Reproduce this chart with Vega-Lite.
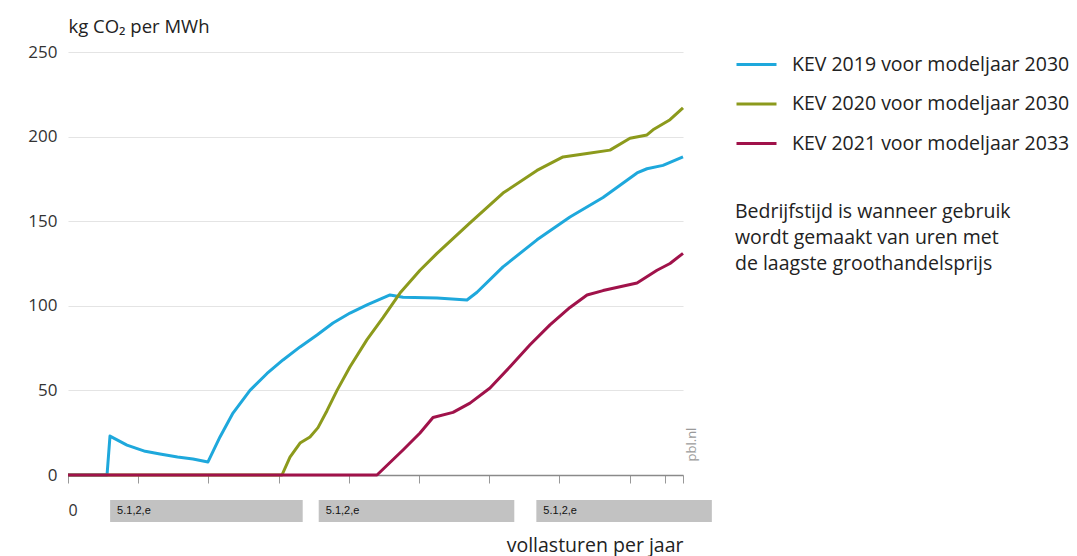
{
  "$schema": "https://vega.github.io/schema/vega-lite/v6.json",
  "width": 615,
  "height": 423,
  "autosize": {"type": "none"},
  "padding": {"left": 68, "top": 52, "right": 394, "bottom": 81},
  "background": "white",
  "config": {
    "font": "Open Sans",
    "view": {"stroke": null},
    "axis": {"labelFont": "Open Sans", "titleFont": "Open Sans"},
    "legend": {"labelFont": "Open Sans", "titleFont": "Open Sans"}
  },
  "datasets": {
    "lines": [
      {"s": "KEV 2019 voor modeljaar 2030", "h": 0, "v": 0},
      {"s": "KEV 2019 voor modeljaar 2030", "h": 556, "v": 0},
      {"s": "KEV 2019 voor modeljaar 2030", "h": 598, "v": 23},
      {"s": "KEV 2019 voor modeljaar 2030", "h": 840, "v": 17.7},
      {"s": "KEV 2019 voor modeljaar 2030", "h": 1100, "v": 14},
      {"s": "KEV 2019 voor modeljaar 2030", "h": 1310, "v": 12.4},
      {"s": "KEV 2019 voor modeljaar 2030", "h": 1560, "v": 10.6},
      {"s": "KEV 2019 voor modeljaar 2030", "h": 1780, "v": 9.5},
      {"s": "KEV 2019 voor modeljaar 2030", "h": 1994, "v": 7.7},
      {"s": "KEV 2019 voor modeljaar 2030", "h": 2165, "v": 22.5},
      {"s": "KEV 2019 voor modeljaar 2030", "h": 2350, "v": 36.6},
      {"s": "KEV 2019 voor modeljaar 2030", "h": 2592, "v": 50},
      {"s": "KEV 2019 voor modeljaar 2030", "h": 2835, "v": 60},
      {"s": "KEV 2019 voor modeljaar 2030", "h": 3062, "v": 68},
      {"s": "KEV 2019 voor modeljaar 2030", "h": 3305, "v": 75.7},
      {"s": "KEV 2019 voor modeljaar 2030", "h": 3547, "v": 82.7},
      {"s": "KEV 2019 voor modeljaar 2030", "h": 3775, "v": 89.8},
      {"s": "KEV 2019 voor modeljaar 2030", "h": 4017, "v": 95.7},
      {"s": "KEV 2019 voor modeljaar 2030", "h": 4259, "v": 100.5},
      {"s": "KEV 2019 voor modeljaar 2030", "h": 4587, "v": 106.4},
      {"s": "KEV 2019 voor modeljaar 2030", "h": 4772, "v": 105},
      {"s": "KEV 2019 voor modeljaar 2030", "h": 5256, "v": 104.6},
      {"s": "KEV 2019 voor modeljaar 2030", "h": 5683, "v": 103.4},
      {"s": "KEV 2019 voor modeljaar 2030", "h": 5826, "v": 108},
      {"s": "KEV 2019 voor modeljaar 2030", "h": 6196, "v": 123},
      {"s": "KEV 2019 voor modeljaar 2030", "h": 6680, "v": 139},
      {"s": "KEV 2019 voor modeljaar 2030", "h": 7150, "v": 152.5},
      {"s": "KEV 2019 voor modeljaar 2030", "h": 7621, "v": 164},
      {"s": "KEV 2019 voor modeljaar 2030", "h": 8105, "v": 178.5},
      {"s": "KEV 2019 voor modeljaar 2030", "h": 8247, "v": 181},
      {"s": "KEV 2019 voor modeljaar 2030", "h": 8475, "v": 183},
      {"s": "KEV 2019 voor modeljaar 2030", "h": 8760, "v": 188},
      {"s": "KEV 2020 voor modeljaar 2030", "h": 0, "v": 0},
      {"s": "KEV 2020 voor modeljaar 2030", "h": 3048, "v": 0},
      {"s": "KEV 2020 voor modeljaar 2030", "h": 3162, "v": 10.6},
      {"s": "KEV 2020 voor modeljaar 2030", "h": 3305, "v": 18.9},
      {"s": "KEV 2020 voor modeljaar 2030", "h": 3447, "v": 22.5},
      {"s": "KEV 2020 voor modeljaar 2030", "h": 3561, "v": 28},
      {"s": "KEV 2020 voor modeljaar 2030", "h": 3689, "v": 38},
      {"s": "KEV 2020 voor modeljaar 2030", "h": 3832, "v": 50},
      {"s": "KEV 2020 voor modeljaar 2030", "h": 4017, "v": 64},
      {"s": "KEV 2020 voor modeljaar 2030", "h": 4259, "v": 80},
      {"s": "KEV 2020 voor modeljaar 2030", "h": 4487, "v": 93},
      {"s": "KEV 2020 voor modeljaar 2030", "h": 4729, "v": 107.5},
      {"s": "KEV 2020 voor modeljaar 2030", "h": 5014, "v": 121},
      {"s": "KEV 2020 voor modeljaar 2030", "h": 5256, "v": 131},
      {"s": "KEV 2020 voor modeljaar 2030", "h": 5726, "v": 149},
      {"s": "KEV 2020 voor modeljaar 2030", "h": 6196, "v": 166.6},
      {"s": "KEV 2020 voor modeljaar 2030", "h": 6680, "v": 180},
      {"s": "KEV 2020 voor modeljaar 2030", "h": 7051, "v": 188},
      {"s": "KEV 2020 voor modeljaar 2030", "h": 7393, "v": 190},
      {"s": "KEV 2020 voor modeljaar 2030", "h": 7720, "v": 192},
      {"s": "KEV 2020 voor modeljaar 2030", "h": 8005, "v": 199},
      {"s": "KEV 2020 voor modeljaar 2030", "h": 8247, "v": 201},
      {"s": "KEV 2020 voor modeljaar 2030", "h": 8333, "v": 204},
      {"s": "KEV 2020 voor modeljaar 2030", "h": 8575, "v": 210},
      {"s": "KEV 2020 voor modeljaar 2030", "h": 8760, "v": 217},
      {"s": "KEV 2021 voor modeljaar 2033", "h": 0, "v": 0},
      {"s": "KEV 2021 voor modeljaar 2033", "h": 4401, "v": 0},
      {"s": "KEV 2021 voor modeljaar 2033", "h": 4772, "v": 14.8},
      {"s": "KEV 2021 voor modeljaar 2033", "h": 5014, "v": 24.8},
      {"s": "KEV 2021 voor modeljaar 2033", "h": 5199, "v": 34},
      {"s": "KEV 2021 voor modeljaar 2033", "h": 5484, "v": 37},
      {"s": "KEV 2021 voor modeljaar 2033", "h": 5726, "v": 42.5},
      {"s": "KEV 2021 voor modeljaar 2033", "h": 6011, "v": 51.4},
      {"s": "KEV 2021 voor modeljaar 2033", "h": 6296, "v": 64},
      {"s": "KEV 2021 voor modeljaar 2033", "h": 6581, "v": 77},
      {"s": "KEV 2021 voor modeljaar 2033", "h": 6865, "v": 88.7},
      {"s": "KEV 2021 voor modeljaar 2033", "h": 7150, "v": 99},
      {"s": "KEV 2021 voor modeljaar 2033", "h": 7393, "v": 106.4},
      {"s": "KEV 2021 voor modeljaar 2033", "h": 7621, "v": 109},
      {"s": "KEV 2021 voor modeljaar 2033", "h": 8105, "v": 113.5},
      {"s": "KEV 2021 voor modeljaar 2033", "h": 8390, "v": 121},
      {"s": "KEV 2021 voor modeljaar 2033", "h": 8575, "v": 125},
      {"s": "KEV 2021 voor modeljaar 2033", "h": 8760, "v": 131}
    ],
    "boxes": [
      {"a": 600, "b": 3343, "t": "5.1,2,e"},
      {"a": 3571, "b": 6357, "t": "5.1,2,e"},
      {"a": 6671, "b": 9171, "t": "5.1,2,e"}
    ],
    "mark": [
      {"h": 8760, "v": 18, "t": "pbl.nl"}
    ]
  },
  "layer": [
    {
      "data": {"name": "boxes"},
      "mark": {"type": "rect", "color": "#c2c2c2", "yOffset": 25, "y2Offset": 47, "clip": false},
      "encoding": {
        "x": {"field": "a", "type": "quantitative", "scale": {"domain": [0, 8760], "nice": false, "zero": false}},
        "x2": {"field": "b"},
        "y": {"datum": 0, "type": "quantitative"},
        "y2": {"datum": 0}
      }
    },
    {
      "data": {"name": "boxes"},
      "mark": {"type": "text", "font": "Arial", "fontSize": 11, "color": "#111", "align": "left", "baseline": "middle", "dx": 7, "dy": 36},
      "encoding": {
        "x": {"field": "a", "type": "quantitative"},
        "y": {"datum": 0, "type": "quantitative"},
        "text": {"field": "t"}
      }
    },
    {
      "data": {"name": "mark"},
      "mark": {"type": "text", "fontSize": 13, "color": "#9a9a9a", "angle": 270, "align": "center", "baseline": "middle", "dy": 9},
      "encoding": {
        "x": {"field": "h", "type": "quantitative"},
        "y": {"field": "v", "type": "quantitative"},
        "text": {"field": "t"}
      }
    },
    {
      "data": {"name": "lines"},
      "mark": {"type": "line", "strokeWidth": 3, "strokeJoin": "round"},
      "encoding": {
        "x": {
          "field": "h", "type": "quantitative",
          "scale": {"domain": [0, 8760], "nice": false, "zero": false},
          "axis": {
            "title": "vollasturen per jaar",
            "titleFontSize": 19.5, "titleFontWeight": "normal", "titleColor": "#222",
            "titleAnchor": "end", "titleAlign": "right", "titleBaseline": "middle",
            "titleX": 615, "titleY": 70,
            "values": [0, 1000, 2000, 3000, 4000, 5000, 6000, 7000, 8000, 8500, 8760],
            "labelExpr": "datum.value == 0 ? '0' : ''",
            "labelFontSize": 16, "labelColor": "#333", "labelPadding": 19,
            "tickSize": 8, "tickColor": "#999", "domainColor": "#8a8a8a", "domainWidth": 1.5,
            "grid": false
          }
        },
        "y": {
          "field": "v", "type": "quantitative",
          "scale": {"domain": [0, 250], "nice": false},
          "axis": {
            "title": "kg CO₂ per MWh",
            "titleAngle": 0, "titleAlign": "left", "titleBaseline": "middle",
            "titleX": 0, "titleY": -26, "titleFontSize": 18.5, "titleFontWeight": "normal", "titleColor": "#222",
            "values": [0, 50, 100, 150, 200, 250],
            "labelFontSize": 17, "labelColor": "#333", "labelPadding": 11,
            "domain": false, "ticks": false,
            "grid": true, "gridColor": "#e4e4e4", "gridWidth": 1.2
          }
        },
        "color": {
          "field": "s", "type": "nominal",
          "scale": {
            "domain": ["KEV 2019 voor modeljaar 2030", "KEV 2020 voor modeljaar 2030", "KEV 2021 voor modeljaar 2033"],
            "range": ["#1ea8dc", "#8c9a1c", "#a0124a"]
          },
          "legend": {
            "orient": "none", "legendX": 667, "legendY": -9,
            "symbolType": "stroke", "symbolSize": 1600, "symbolStrokeWidth": 3,
            "labelFontSize": 19.5, "labelColor": "#222", "labelOffset": 14, "labelLimit": 400,
            "rowPadding": 8.5,
            "title": ["Bedrijfstijd is wanneer gebruik", "wordt gemaakt van uren met", "de laagste groothandelsprijs"],
            "titleOrient": "bottom", "titleAnchor": "start", "titleFontSize": 19.5, "titleFontWeight": "normal",
            "titleColor": "#222", "titleLineHeight": 26, "titlePadding": 50, "titleLimit": 400
          }
        }
      }
    }
  ]
}
